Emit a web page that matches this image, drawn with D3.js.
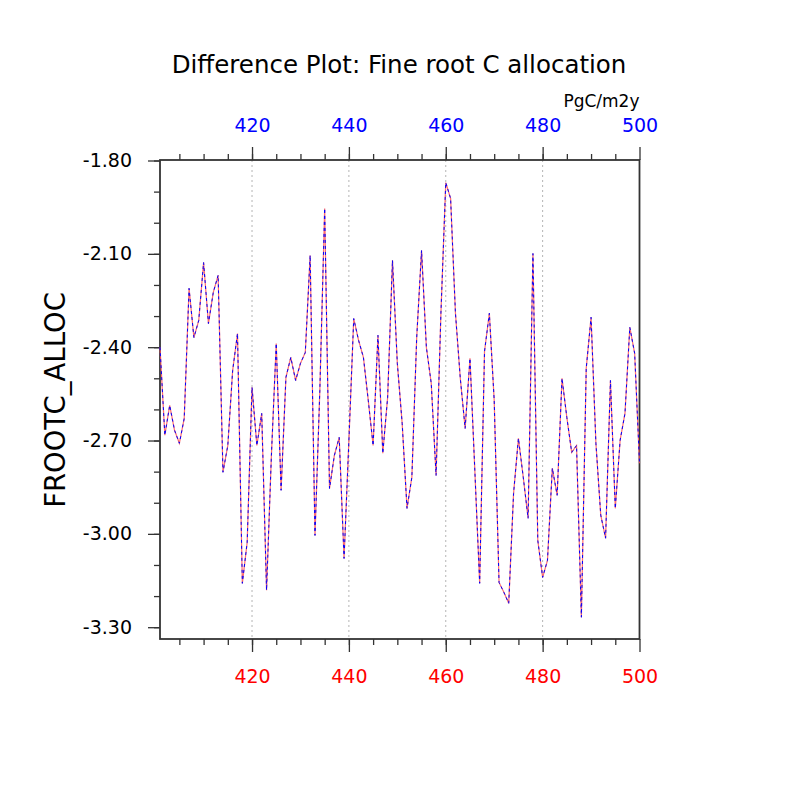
<!DOCTYPE html>
<html>
<head>
<meta charset="utf-8">
<script src="https://cdn.jsdelivr.net/npm/d3@7"></script>
<style>
body { margin: 0; background: #fff; }
text { font-family: "DejaVu Sans", "Liberation Sans", Arial, sans-serif; }
</style>
</head>
<body>
<svg id="canvas"></svg>
<script>
var width = 800
var height = 800

var years = [401, 402, 403, 404, 405, 406, 407, 408, 409, 410,
	411, 412, 413, 414, 415, 416, 417, 418, 419, 420,
	421, 422, 423, 424, 425, 426, 427, 428, 429, 430,
	431, 432, 433, 434, 435, 436, 437, 438, 439, 440,
	441, 442, 443, 444, 445, 446, 447, 448, 449, 450,
	451, 452, 453, 454, 455, 456, 457, 458, 459, 460,
	461, 462, 463, 464, 465, 466, 467, 468, 469, 470,
	471, 472, 473, 474, 475, 476, 477, 478, 479, 480,
	481, 482, 483, 484, 485, 486, 487, 488, 489, 490,
	491, 492, 493, 494, 495, 496, 497, 498, 499, 500]

// red solid and blue dashed series (the two overlap exactly)
var frootcRed = [-2.40, -2.683, -2.587, -2.667, -2.709, -2.629, -2.211, -2.369, -2.314, -2.128,
	-2.324, -2.224, -2.169, -2.802, -2.716, -2.475, -2.356, -3.159, -3.027, -2.529,
	-2.716, -2.613, -3.181, -2.748, -2.388, -2.860, -2.497, -2.433, -2.507, -2.452,
	-2.417, -2.105, -3.005, -2.539, -1.954, -2.854, -2.748, -2.690, -3.079, -2.700,
	-2.308, -2.378, -2.433, -2.571, -2.716, -2.362, -2.741, -2.561, -2.121, -2.452,
	-2.645, -2.918, -2.818, -2.369, -2.089, -2.401, -2.516, -2.812, -2.291, -1.871,
	-1.922, -2.291, -2.500, -2.661, -2.436, -2.796, -3.159, -2.414, -2.291, -2.571,
	-3.156, -3.188, -3.223, -2.870, -2.693, -2.818, -2.950, -2.099, -3.021, -3.140,
	-3.085, -2.789, -2.876, -2.500, -2.626, -2.738, -2.716, -3.268, -2.468, -2.304,
	-2.709, -2.940, -3.014, -2.507, -2.918, -2.699, -2.613, -2.336, -2.420, -2.773]
var frootcBlue = frootcRed.slice()

var xTicks = [420, 440, 460, 480, 500]
var yTicks = [-1.80, -2.10, -2.40, -2.70, -3.00, -3.30]
var xMinorStep = 5
var yMinorStep = 0.1

var plotLeft = 160, plotRight = 639.5, plotTop = 160, plotBottom = 639

var svg = d3.select("#canvas")
	.attr("width", width)
	.attr("height", height)

var x = d3.scaleLinear().domain([401, 500]).range([plotLeft, plotRight])
var y = d3.scaleLinear().domain([-1.80, -3.30]).range([160.5, 627.2])

var hyphen = function(f){ return function(d){ return f(d).replace("\u2212", "-") } }

// dashed grid lines
svg.selectAll(".grid")
	.data(xTicks.slice(0, 4))
	.join("line")
	.attr("class", "grid")
	.attr("x1", function(d){ return x(d) })
	.attr("x2", function(d){ return x(d) })
	.attr("y1", plotTop)
	.attr("y2", plotBottom)
	.attr("stroke", "#b4b4b4")
	.attr("stroke-width", 1)
	.attr("stroke-dasharray", "2,3")

var xMinor = d3.range(405, 500, xMinorStep)
var yMinor = d3.range(-1.80, -3.34, -yMinorStep).map(function(d){ return Math.round(d * 100) / 100 })

// bottom axis
var bottomAxis = svg.append("g").attr("transform", "translate(0," + plotBottom + ")")
bottomAxis.call(d3.axisBottom(x).tickValues(xMinor).tickSize(6).tickFormat(""))
bottomAxis.append("g").call(d3.axisBottom(x).tickValues(xTicks).tickSize(13).tickPadding(18).tickFormat(d3.format("d")))

// top axis
var topAxis = svg.append("g").attr("transform", "translate(0," + plotTop + ")")
topAxis.call(d3.axisTop(x).tickValues(xMinor).tickSize(6).tickFormat(""))
topAxis.append("g").call(d3.axisTop(x).tickValues(xTicks).tickSize(13).tickPadding(15).tickFormat(d3.format("d")))

// left axis
var leftAxis = svg.append("g").attr("transform", "translate(" + plotLeft + ",0)")
leftAxis.call(d3.axisLeft(y).tickValues(yMinor).tickSize(6).tickFormat(""))
leftAxis.append("g").call(d3.axisLeft(y).tickValues(yTicks).tickSize(12).tickPadding(16).tickFormat(hyphen(d3.format(".2f"))))

svg.selectAll(".domain").remove()
svg.selectAll(".tick line").attr("stroke", "#333").attr("stroke-width", 1.3)
svg.selectAll(".tick text").style("font-size", "19px").attr("fill", "#000")
bottomAxis.selectAll(".tick text").attr("fill", "#ff0000")
topAxis.selectAll(".tick text").attr("fill", "#0000ff")

// frame
svg.append("rect")
	.attr("x", plotLeft)
	.attr("y", plotTop)
	.attr("width", plotRight - plotLeft)
	.attr("height", plotBottom - plotTop)
	.attr("fill", "none")
	.attr("stroke", "#333")
	.attr("stroke-width", 1.8)

var line = d3.line()
	.x(function(d, i){ return x(years[i]) })
	.y(function(d){ return y(d) })

svg.append("path")
	.datum(frootcRed)
	.attr("d", line)
	.attr("fill", "none")
	.attr("stroke", "#ff5555")
	.attr("stroke-opacity", 0.85)
	.attr("stroke-width", 1.2)

svg.append("path")
	.datum(frootcBlue)
	.attr("d", line)
	.attr("fill", "none")
	.attr("stroke", "#0000ff")
	.attr("stroke-width", 1)
	.attr("stroke-dasharray", "3,3")

svg.append("text")
	.attr("x", 399)
	.attr("y", 73)
	.attr("text-anchor", "middle")
	.style("font-size", "24.5px")
	.text("Difference Plot: Fine root C allocation")

svg.append("text")
	.attr("x", plotRight)
	.attr("y", 107)
	.attr("text-anchor", "end")
	.style("font-size", "17px")
	.text("PgC/m2y")

svg.append("text")
	.attr("transform", "translate(65,400) rotate(-90)")
	.attr("text-anchor", "middle")
	.style("font-size", "27.5px")
	.text("FROOTC_ALLOC")
</script>
</body>
</html>
